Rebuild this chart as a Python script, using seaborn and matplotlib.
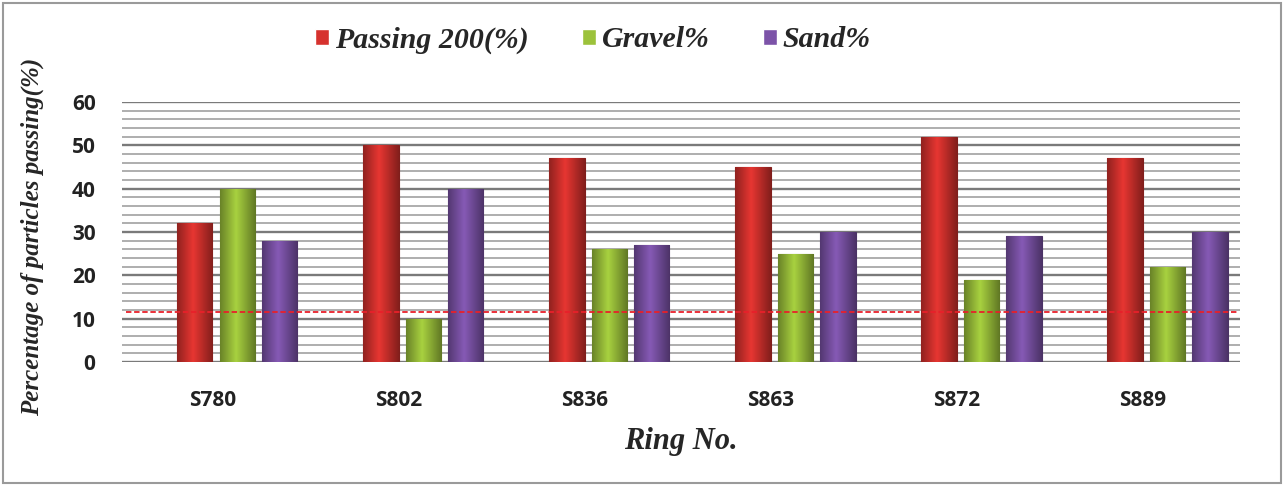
import numpy as np
import pandas as pd
import seaborn as sns
import matplotlib.pyplot as plt
import matplotlib.transforms as mtransforms
from matplotlib.colors import to_rgb
from matplotlib.patches import Rectangle
from matplotlib.ticker import MultipleLocator

rings = ['S780', 'S802', 'S836', 'S863', 'S872', 'S889']
passing_200 = [32, 50, 47, 45, 52, 47]
gravel = [40, 10, 26, 25, 19, 22]
sand = [28, 40, 27, 30, 29, 30]
series_names = ['Passing 200(%)', 'Gravel%', 'Sand%']
limit_line = 11.5

colors = ['#d6322e', '#9cc23b', '#7c53a8']

df = pd.DataFrame({
    'ring': rings * 3,
    'value': passing_200 + gravel + sand,
    'series': np.repeat(series_names, len(rings)),
})

sns.set_style('white')
serif = ['Liberation Serif', 'DejaVu Serif']
sans = ['Open Sans', 'DejaVu Sans']

fig = plt.figure(figsize=(12.84, 4.86), dpi=100)
ax = fig.add_axes([122 / 1284, 1 - 362 / 486, (1240 - 122) / 1284, 260 / 486])

sns.barplot(data=df, x='ring', y='value', hue='series', palette=colors,
            width=0.685, gap=0.17, saturation=1, ax=ax, legend=True, zorder=3)

# cylinder-like shading on each bar (horizontal gradient, dark edges)
shade = np.concatenate([np.linspace(0.68, 1.07, 18), np.linspace(1.07, 0.62, 22)])
for patch in list(ax.patches):
    h = patch.get_height()
    if h <= 0:
        continue
    base = np.array(to_rgb(patch.get_facecolor()))
    img = np.clip(base[None, None, :] * shade[None, :, None], 0, 1)
    x0, w = patch.get_x(), patch.get_width()
    im = ax.imshow(img, extent=[x0, x0 + w, 0, h], aspect='auto', zorder=3.2,
                   interpolation='bilinear')
    im.set_clip_path(patch)
    patch.set_edgecolor(tuple(base * 0.6))
    patch.set_linewidth(0.8)

ax.set_ylim(0, 60)
ax.set_xlim(-0.62, 5.39)
ax.yaxis.set_major_locator(MultipleLocator(10))
ax.yaxis.set_minor_locator(MultipleLocator(2))
ax.grid(which='major', axis='y', color='#7a7a7a', linewidth=1.7, zorder=0)
ax.grid(which='minor', axis='y', color='#a8a8a8', linewidth=1.3, zorder=0)
ax.set_axisbelow(True)
for s in ax.spines.values():
    s.set_visible(False)

ax.axhline(limit_line, xmin=0.004, xmax=0.998, color='#e8202a', linestyle='--',
           linewidth=1.3, dashes=(3, 1.5), zorder=4)

ax.tick_params(axis='x', length=0, pad=20)
ax.tick_params(axis='y', which='both', length=0, pad=19)
shift = mtransforms.ScaledTranslation(-25 / 100, 0, fig.dpi_scale_trans)
for lab in ax.get_xticklabels():
    lab.set_transform(lab.get_transform() + shift)
for lab in ax.get_xticklabels() + ax.get_yticklabels():
    lab.set_family(sans)
    lab.set_fontweight('bold')
    lab.set_fontsize(15)
    lab.set_color('#222222')

ax.set_xlabel('Ring No.', family=serif, style='italic', fontweight='bold',
              fontsize=22, labelpad=12)
ax.set_ylabel('Percentage of particles passing(%)', family=serif, style='italic',
              fontweight='bold', fontsize=18)
ax.yaxis.set_label_coords(-0.07, 0.48)

handles, labels = ax.get_legend_handles_labels()
ax.legend(handles, labels, loc='center', bbox_to_anchor=(593 / 1284, 1 - 40 / 486),
          bbox_transform=fig.transFigure, ncol=3, frameon=False,
          prop={'family': serif, 'style': 'italic', 'weight': 'bold', 'size': 21.5},
          handlelength=0.45, handleheight=0.45, handletextpad=0.2, columnspacing=1.8)

fig.add_artist(Rectangle((3 / 1284, 3 / 486), 1 - 6 / 1284, 1 - 6 / 486,
                         transform=fig.transFigure, fill=False,
                         edgecolor='#9a9a9a', linewidth=1.5))

fig.savefig('out.png', dpi=100, facecolor='white')
